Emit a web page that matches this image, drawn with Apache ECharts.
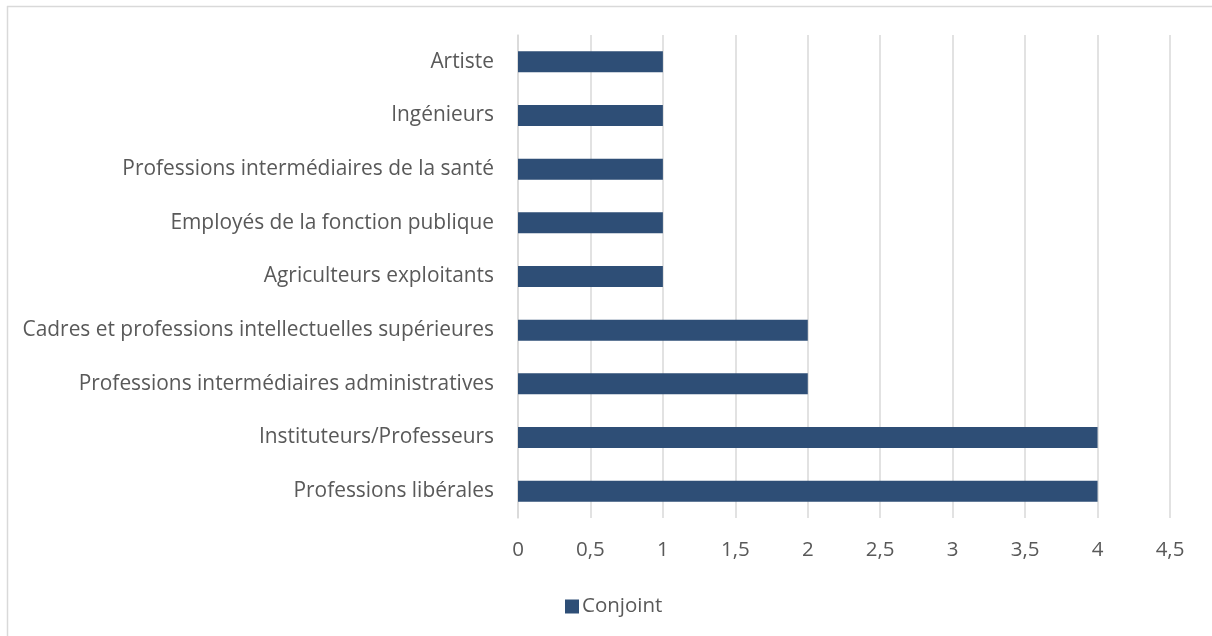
<!DOCTYPE html>
<html>
<head>
<meta charset="utf-8">
<script src="https://cdn.jsdelivr.net/npm/echarts@6/dist/echarts.min.js"></script>
<style>
html,body{margin:0;padding:0;background:#fff;}
#chart{width:1212px;height:636px;}
</style>
</head>
<body>
<div id="chart"></div>
<script>
const categories = [
  "Professions libérales",
  "Instituteurs/Professeurs",
  "Professions intermédiaires administratives",
  "Cadres et professions intellectuelles supérieures",
  "Agriculteurs exploitants",
  "Employés de la fonction publique",
  "Professions intermédiaires de la santé",
  "Ingénieurs",
  "Artiste"
];
const seriesName = "Conjoint";
const values = [4, 4, 2, 2, 1, 1, 1, 1, 1];
const fontFamily = "'Open Sans', sans-serif";
const fs = 20.5;

const chart = echarts.init(document.getElementById('chart'), null, {renderer: 'canvas'});
chart.setOption({
  animation: false,
  backgroundColor: '#ffffff',
  textStyle: {fontFamily: fontFamily},
  graphic: [
    {type: 'line', shape: {x1: 7, y1: 6.5, x2: 1212, y2: 6.5}, style: {stroke: '#d9d9d9', lineWidth: 1.5}},
    {type: 'line', shape: {x1: 7.5, y1: 6, x2: 7.5, y2: 636}, style: {stroke: '#d9d9d9', lineWidth: 1.5}}
  ],
  legend: {
    data: [seriesName],
    left: 565,
    top: 596,
    padding: 0,
    itemWidth: 14,
    itemHeight: 14,
    itemGap: 5,
    icon: 'rect',
    textStyle: {fontSize: fs, color: '#595959', fontFamily: fontFamily, padding: [0,0,0,-2]}
  },
  grid: {left: 518, right: 42, top: 35, bottom: 118, containLabel: false},
  xAxis: {
    type: 'value',
    min: 0,
    max: 4.5,
    interval: 0.5,
    axisLine: {show: false},
    axisTick: {show: false},
    splitLine: {lineStyle: {color: '#d9d9d9', width: 1.5}},
    axisLabel: {
      fontSize: fs,
      color: '#595959',
      margin: 22,
      formatter: v => String(v).replace('.', ',')
    }
  },
  yAxis: {
    type: 'category',
    data: categories,
    axisLine: {show: true, lineStyle: {color: '#d9d9d9', width: 1.5}},
    axisTick: {show: false},
    axisLabel: {fontSize: 20.9, color: '#595959', margin: 24}
  },
  series: [{
    name: seriesName,
    type: 'bar',
    data: values,
    barWidth: 21,
    itemStyle: {color: '#2e4e76'}
  }]
});
</script>
</body>
</html>
